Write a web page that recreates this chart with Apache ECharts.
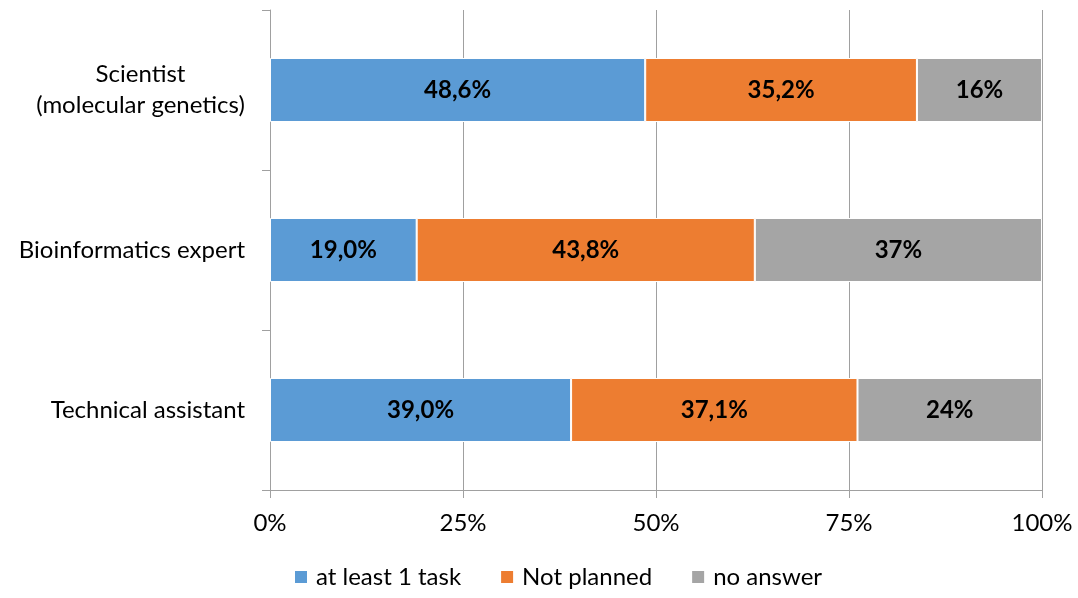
<!DOCTYPE html>
<html>
<head>
<meta charset="utf-8">
<script src="https://cdn.jsdelivr.net/npm/echarts@6/dist/echarts.min.js"></script>
<style>html,body{margin:0;padding:0;background:#fff}#c{width:1078px;height:598px}</style>
</head>
<body>
<div id="c"></div>
<script>
const categories = ['Scientist\n(molecular genetics)', 'Bioinformatics expert', 'Technical assistant'];
const seriesNames = ['at least 1 task', 'Not planned', 'no answer'];
const atLeastOne = [48.6, 19.0, 39.0];
const notPlanned = [35.2, 43.8, 37.1];
const noAnswer = [16.2, 37.2, 23.9];
const labelDecimals = [1, 1, 0];
const xTicks = [0, 25, 50, 75, 100];
const colors = ['#5b9bd5', '#ed7d31', '#a5a5a5'];

const font = 'Lato, "Open Sans", sans-serif';
const fs = 24;
const ctx = document.createElement('canvas').getContext('2d');
ctx.font = fs + 'px ' + font;
const measure = s => ctx.measureText(s).width;

const chart = echarts.init(document.getElementById('c'));
const mk = (name, data, i) => ({
  name, type: 'bar', stack: 'total', data, barWidth: '40%',
  itemStyle: { color: colors[i], borderColor: '#fff', borderWidth: 1 },
  label: {
    show: true, position: 'inside', color: '#000', fontWeight: 'bold', fontSize: fs, fontFamily: font,
    formatter: p => p.value.toFixed(labelDecimals[i]).replace('.', ',') + '%'
  }
});
chart.setOption({
  animation: false,
  color: colors,
  grid: { left: 270, right: 36, top: 10, bottom: 108 },
  legend: {
    bottom: 4, left: 288, itemWidth: 14, itemHeight: 14, itemGap: 38, icon: 'rect',
    textStyle: { fontSize: fs, fontFamily: font, color: '#000', padding: [0, 0, 0, 3] },
    data: seriesNames
  },
  xAxis: {
    type: 'value', min: 0, max: 100, interval: 25,
    axisLine: { show: true, lineStyle: { color: '#a0a0a0' } },
    axisTick: { show: true, length: 8, lineStyle: { color: '#a0a0a0' } },
    splitLine: { show: true, lineStyle: { color: '#a0a0a0' } },
    axisLabel: { fontSize: fs, fontFamily: font, color: '#000', margin: 21,
      formatter: v => xTicks.includes(v) ? v + '%' : '' }
  },
  yAxis: {
    type: 'category', inverse: true, data: categories,
    axisLine: { show: true, lineStyle: { color: '#a0a0a0' } },
    axisTick: { show: true, length: 8, lineStyle: { color: '#a0a0a0' } },
    axisLabel: {
      fontSize: fs, fontFamily: font, color: '#000', margin: 25, align: 'right', lineHeight: 31,
      formatter: v => {
        const lines = v.split('\n');
        if (lines.length === 1) return v;
        return lines.map(l => '{c|' + l + '}').join('\n');
      },
      rich: { c: { fontSize: fs, fontFamily: font, color: '#000', lineHeight: 31, align: 'center',
        width: Math.ceil(measure('(molecular genetics)')) } }
    }
  },
  series: [mk(seriesNames[0], atLeastOne, 0), mk(seriesNames[1], notPlanned, 1), mk(seriesNames[2], noAnswer, 2)]
});
</script>
</body>
</html>
